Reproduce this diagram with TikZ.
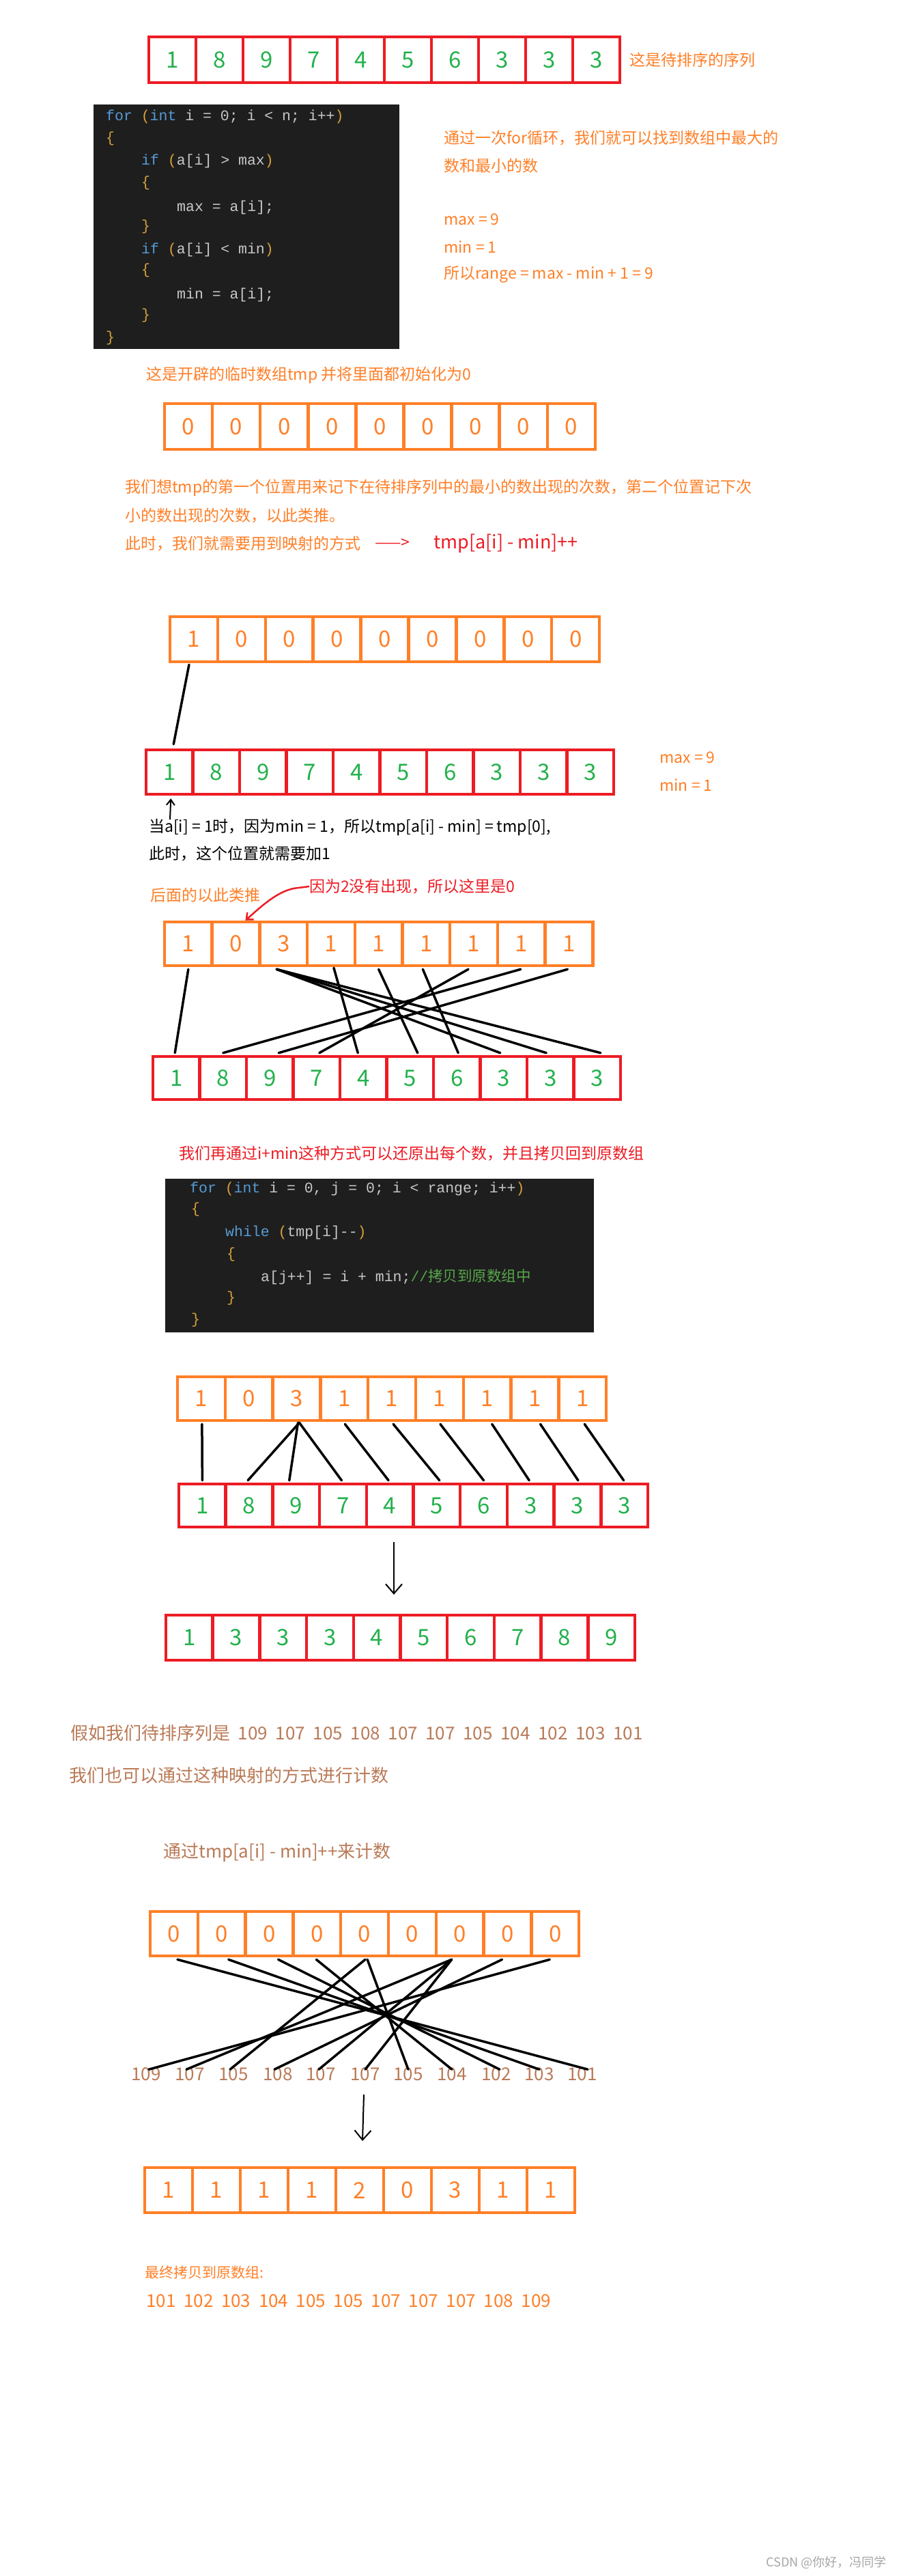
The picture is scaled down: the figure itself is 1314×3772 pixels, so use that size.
\documentclass[tikz,border=0pt]{standalone}
\usepackage{fontspec}
\setmainfont{Noto Sans CJK SC}
\setmonofont{Liberation Mono}
\newfontfamily\cjk{Noto Sans CJK SC}
\usetikzlibrary{arrows.meta}
\definecolor{pred}{HTML}{ED1C24}
\definecolor{porange}{HTML}{FF7F27}
\definecolor{pgreen}{HTML}{22B14C}
\definecolor{pbrown}{HTML}{B97A57}
\definecolor{codebg}{HTML}{1E1E1E}
\definecolor{kw}{HTML}{569CD6}
\definecolor{ctext}{HTML}{C8C8C8}
\definecolor{cbr}{HTML}{D7A03C}
\definecolor{ccom}{HTML}{57A64A}
\newcommand\arrrow[8]{%
  \foreach \v [count=\i from 0] in {#8} {
    \node[draw=#6, text=#7, line width=4.5pt, minimum width=#4pt, minimum height=#5pt,
      inner sep=0pt, font=\fontsize{33}{36}\selectfont] (#1\i) at ({#2+(\i+0.5)*#4},{#3+#5/2}) {\v};
  }}
\tikzset{
  otext/.style={anchor=west, text=porange, font=\fontsize{23}{26}\selectfont, inner sep=0pt},
  btext/.style={anchor=west, text=pbrown, font=\fontsize{26}{30}\selectfont, inner sep=0pt},
  ktext/.style={anchor=west, text=black, font=\fontsize{23}{26}\selectfont, inner sep=0pt},
  rtext/.style={anchor=west, text=pred, font=\fontsize{23}{26}\selectfont, inner sep=0pt},
  code/.style={anchor=west, text=ctext, font=\ttfamily\fontsize{21.5}{24}\selectfont, inner sep=0pt},
  wire/.style={line width=3.5pt, black, line cap=round},
  downarr/.style={line width=2pt, black, -{Straight Barb[length=14pt,width=24pt]}},
}
\begin{document}
\begin{tikzpicture}[x=1pt,y=-1pt]
\fill[white] (0,0) rectangle (1314,3772);
\useasboundingbox (0,0) rectangle (1314,3772);

% ---- section 1
\arrrow{a}{218}{54}{69}{67}{pred}{pgreen}{1,8,9,7,4,5,6,3,3,3}
\node[otext] (t1) at (922,88) {这是待排序的序列};

\node[fill=codebg, minimum width=448pt, minimum height=358pt, anchor=north west, inner sep=0pt] (code1) at (137,153) {};
\node[code] (c1) at (155,171) {\textcolor{kw}{for} \textcolor{cbr}{(}\textcolor{kw}{int} i = 0; i < n; i++\textcolor{cbr}{)}};
\node[code] (c2) at (155,203) {\textcolor{cbr}{\{}};
\node[code] (c3) at (207,236) {\textcolor{kw}{if} \textcolor{cbr}{(}a[i] > max\textcolor{cbr}{)}};
\node[code] (c4) at (207,268) {\textcolor{cbr}{\{}};
\node[code] (c5) at (259,304) {max = a[i];};
\node[code] (c6) at (207,332) {\textcolor{cbr}{\}}};
\node[code] (c7) at (207,366) {\textcolor{kw}{if} \textcolor{cbr}{(}a[i] < min\textcolor{cbr}{)}};
\node[code] (c8) at (207,396) {\textcolor{cbr}{\{}};
\node[code] (c9) at (259,432) {min = a[i];};
\node[code] (c10) at (207,462) {\textcolor{cbr}{\}}};
\node[code] (c11) at (155,495) {\textcolor{cbr}{\}}};

\node[otext] (r1) at (650,202) {通过一次for循环，我们就可以找到数组中最大的};
\node[otext] (r2) at (650,243) {数和最小的数};
\node[otext] (r3) at (650,321) {max = 9};
\node[otext] (r4) at (650,362) {min = 1};
\node[otext] (r5) at (650,402) {所以range = max - min + 1 = 9};

% ---- section 2
\node[otext] (t2) at (214,549) {这是开辟的临时数组tmp 并将里面都初始化为0};
\arrrow{z}{241}{591}{70.1}{67}{porange}{porange}{0,0,0,0,0,0,0,0,0}
\node[otext] (p1) at (183,714) {我们想tmp的第一个位置用来记下在待排序列中的最小的数出现的次数，第二个位置记下次};
\node[otext] (p2) at (183,755) {小的数出现的次数，以此类推。};
\node[otext] (p3) at (183,796) {此时，我们就需要用到映射的方式};
\node[rtext] (p4) at (549,796) {——>};
\node[rtext, font=\fontsize{27}{30}\selectfont] (p5) at (635,796) {tmp[a[i] - min]++};

\arrrow{u}{249}{903}{69.9}{66}{porange}{porange}{1,0,0,0,0,0,0,0,0}
\arrrow{v}{214}{1098}{68.5}{65}{pred}{pgreen}{1,8,9,7,4,5,6,3,3,3}
\draw[wire] ([xshift=-7pt,yshift=-2pt]u0.south) -- ([xshift=6pt,yshift=6pt]v0.north);
\node[otext] (m1) at (966,1109) {max = 9};
\node[otext] (m2) at (966,1150) {min = 1};
\coordinate (up0) at (249,1200);
\draw[line width=2pt, black, -{Straight Barb[length=8pt,width=12pt]}] (up0) -- ([xshift=2pt,yshift=-4pt]v0.south);
\node[ktext] (k1) at (218,1211) {当a[i] = 1时，因为min = 1，所以tmp[a[i] - min] = tmp[0],};
\node[ktext] (k2) at (218,1250) {此时，这个位置就需要加1};

% ---- section 3
\node[otext] (h1) at (220,1311) {后面的以此类推};
\node[rtext] (h2) at (453,1298) {因为2没有出现，所以这里是0};
\arrrow{p}{241}{1350}{69.7}{64}{porange}{porange}{1,0,3,1,1,1,1,1,1}
\draw[pred, line width=2.5pt, -{Straight Barb[length=8pt,width=14pt]}] (h2.west) -- (437,1300) .. controls (410,1302) and (385,1325) .. ([xshift=14pt]p1.north);
\arrrow{q}{224}{1547}{68.5}{63}{pred}{pgreen}{1,8,9,7,4,5,6,3,3,3}
\draw[wire] ([yshift=-3pt]p0.south) -- ([xshift=-2pt,yshift=3pt]q0.north);
\draw[wire] ([xshift=-10pt,yshift=-3pt]p2.south) -- ([xshift=-5pt,yshift=3pt]q7.north);
\draw[wire] ([xshift=-10pt,yshift=-3pt]p2.south) -- ([xshift=-6pt,yshift=3pt]q8.north);
\draw[wire] ([xshift=-10pt,yshift=-3pt]p2.south) -- ([xshift=5pt,yshift=3pt]q9.north);
\draw[wire] ([xshift=4pt,yshift=-1pt]p3.south) -- ([xshift=-8pt,yshift=3pt]q4.north);
\draw[wire] ([yshift=-3pt]p4.south) -- ([xshift=11pt,yshift=3pt]q5.north);
\draw[wire] ([xshift=-5pt,yshift=-3pt]p5.south) -- ([xshift=2pt,yshift=3pt]q6.north);
\draw[wire] ([xshift=-8pt,yshift=-3pt]p6.south) -- ([xshift=4pt,yshift=3pt]q3.north);
\draw[wire] ([xshift=-1pt,yshift=-3pt]p7.south) -- ([yshift=3pt]q1.north);
\draw[wire] ([xshift=-2pt,yshift=-3pt]p8.south) -- ([xshift=13pt,yshift=3pt]q2.north);

\node[rtext] (h3) at (262,1689) {我们再通过i+min这种方式可以还原出每个数，并且拷贝回到原数组};
\node[fill=codebg, minimum width=628pt, minimum height=225pt, anchor=north west, inner sep=0pt] (code2) at (242,1726) {};
\node[code] (d1) at (278,1741) {\textcolor{kw}{for} \textcolor{cbr}{(}\textcolor{kw}{int} i = 0, j = 0; i < range; i++\textcolor{cbr}{)}};
\node[code] (d2) at (280,1771) {\textcolor{cbr}{\{}};
\node[code] (d3) at (330,1805) {\textcolor{kw}{while} \textcolor{cbr}{(}tmp[i]--\textcolor{cbr}{)}};
\node[code] (d4) at (332,1837) {\textcolor{cbr}{\{}};
\node[code] (d5) at (382,1870) {a[j++] = i + min;\textcolor{ccom}{//{\cjk 拷贝到原数组中}}};
\node[code] (d6) at (332,1901) {\textcolor{cbr}{\}}};
\node[code] (d7) at (280,1933) {\textcolor{cbr}{\}}};

% ---- section 4
\arrrow{r}{260}{2016}{69.8}{64}{porange}{porange}{1,0,3,1,1,1,1,1,1}
\arrrow{s}{262}{2173}{68.7}{63}{pred}{pgreen}{1,8,9,7,4,5,6,3,3,3}
\draw[wire] ([xshift=1pt,yshift=-3pt]r0.south) -- ([yshift=3pt]s0.north);
\draw[wire] ([xshift=4pt,yshift=-1pt]r2.south) -- ([xshift=-2pt,yshift=3pt]s1.north);
\draw[wire] ([xshift=2pt,yshift=-1pt]r2.south) -- ([xshift=-10pt,yshift=3pt]s2.north);
\draw[wire] ([xshift=4pt,yshift=-1pt]r2.south) -- ([xshift=-2pt,yshift=3pt]s3.north);
\draw[wire] ([xshift=1pt,yshift=-3pt]r3.south) -- ([xshift=-2pt,yshift=3pt]s4.north);
\draw[wire] ([xshift=2pt,yshift=-3pt]r4.south) -- ([xshift=4pt,yshift=3pt]s5.north);
\draw[wire] ([xshift=1pt,yshift=-3pt]r5.south) -- ([yshift=3pt]s6.north);
\draw[wire] ([xshift=7pt,yshift=-3pt]r6.south) -- ([xshift=-2pt,yshift=3pt]s7.north);
\draw[wire] ([xshift=8pt,yshift=-3pt]r7.south) -- ([xshift=1pt,yshift=3pt]s8.north);
\draw[wire] ([xshift=3pt,yshift=-3pt]r8.south) -- ([xshift=-1pt,yshift=3pt]s9.north);
\coordinate (da1) at (577,2258);
\coordinate (da1e) at (577,2335);
\arrrow{f}{243}{2365}{68.7}{66}{pred}{pgreen}{1,3,3,3,4,5,6,7,8,9}
\draw[downarr] (da1) -- (da1e);

% ---- section 5
\node[btext] (g1) at (103,2538) {假如我们待排序列是 \ 109 \ 107 \ 105 \ 108 \ 107 \ 107 \ 105 \ 104 \ 102 \ 103 \ 101};
\node[btext] (g2) at (101,2600) {我们也可以通过这种映射的方式进行计数};
\node[btext] (g3) at (239,2713) {通过tmp[a[i] - min]++来计数};
\arrrow{w}{220}{2799}{69.8}{65}{porange}{porange}{0,0,0,0,0,0,0,0,0}
\foreach \v/\x [count=\k from 0] in {109/214,107/278,105/342,108/407,107/470,107/535,105/598,104/662,102/727,103/790,101/853} {
  \node[text=pbrown, font=\fontsize{26}{30}\selectfont, inner sep=0pt] (n\k) at (\x,3037) {\v};
}
\draw[wire] ([xshift=5pt,yshift=-3pt]w0.south) -- ([xshift=8pt,yshift=-3pt]n10.north);
\draw[wire] ([xshift=10pt,yshift=-3pt]w1.south) -- ([yshift=-3pt]n9.north);
\draw[wire] ([xshift=13pt,yshift=-3pt]w2.south) -- ([xshift=5pt,yshift=-3pt]n8.north);
\draw[wire] ([xshift=-1pt,yshift=-3pt]w3.south) -- ([yshift=-3pt]n7.north);
\draw[wire] ([xshift=1pt,yshift=-3pt]w4.south) -- ([xshift=-5pt,yshift=-3pt]n2.north);
\draw[wire] ([xshift=4pt,yshift=-3pt]w4.south) -- ([yshift=-3pt]n6.north);
\draw[wire] ([xshift=-12pt,yshift=-3pt]w6.south) -- ([xshift=-5pt,yshift=-3pt]n1.north);
\draw[wire] ([xshift=-12pt,yshift=-3pt]w6.south) -- ([xshift=-3pt,yshift=-3pt]n4.north);
\draw[wire] ([xshift=-12pt,yshift=-3pt]w6.south) -- ([yshift=-3pt]n5.north);
\draw[wire] ([xshift=-8pt,yshift=-3pt]w7.south) -- ([xshift=-5pt,yshift=-3pt]n3.north);
\draw[wire] ([xshift=-8pt,yshift=-3pt]w8.south) -- ([xshift=4pt,yshift=-3pt]n0.north);
\coordinate (da2) at (533,3067);
\coordinate (da2e) at (531,3135);
\arrrow{c}{212}{3174}{70}{66}{porange}{porange}{1,1,1,1,2,0,3,1,1}
\draw[downarr] (da2) -- (da2e);
\node[otext, font=\fontsize{21}{24}\selectfont] (e1) at (212,3327) {最终拷贝到原数组:};
\node[otext, font=\fontsize{26}{30}\selectfont] (e2) at (214,3369) {101 \ 102 \ 103 \ 104 \ 105 \ 105 \ 107 \ 107 \ 107 \ 108 \ 109};
\node[anchor=east, text=gray!70, font=\fontsize{18}{20}\selectfont, inner sep=0pt] (wm) at (1299,3752) {CSDN @你好，冯同学};
\end{tikzpicture}
\end{document}
